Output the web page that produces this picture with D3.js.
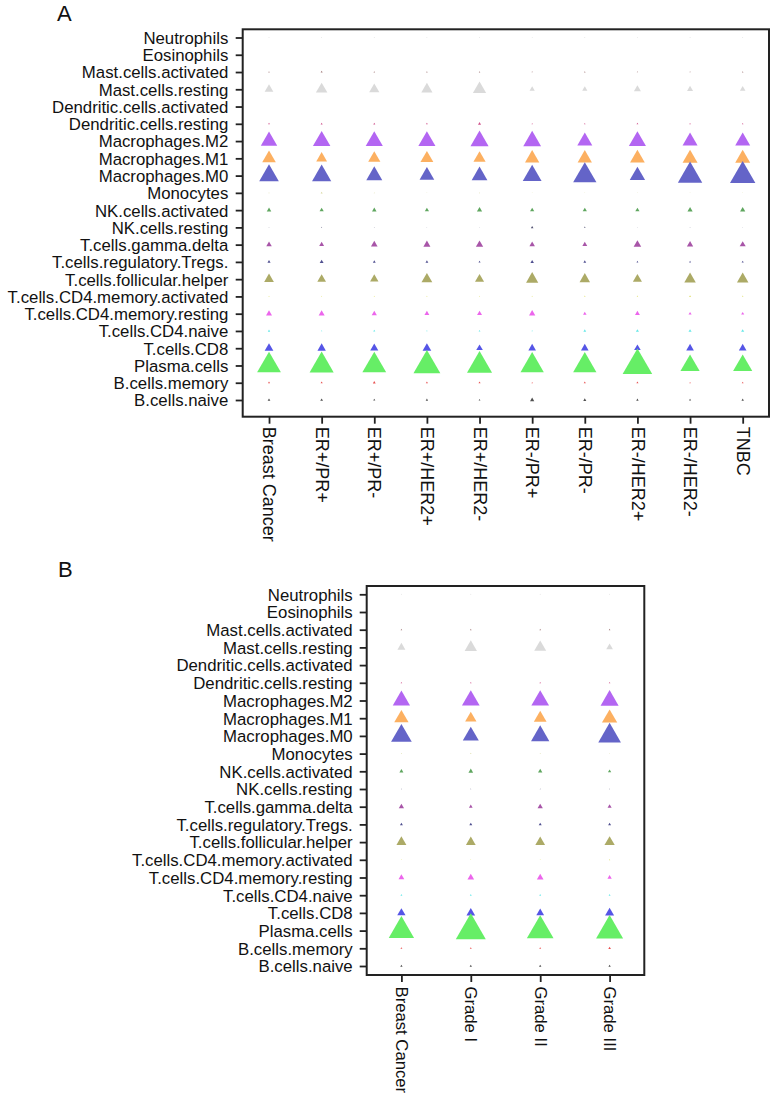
<!DOCTYPE html>
<html><head><meta charset="utf-8">
<script src="https://cdn.jsdelivr.net/npm/d3@7"></script>
<style>
body{margin:0;background:#fff}
svg{display:block}
text{font-family:"Liberation Sans",Arial,Helvetica,sans-serif;fill:#111}
</style>
</head><body>
<svg id="chart" width="777" height="1097"></svg>
<script>
// ---- categories ----
const cellTypes = ["Neutrophils","Eosinophils","Mast.cells.activated","Mast.cells.resting",
  "Dendritic.cells.activated","Dendritic.cells.resting","Macrophages.M2","Macrophages.M1",
  "Macrophages.M0","Monocytes","NK.cells.activated","NK.cells.resting","T.cells.gamma.delta",
  "T.cells.regulatory.Tregs.","T.cells.follicular.helper","T.cells.CD4.memory.activated",
  "T.cells.CD4.memory.resting","T.cells.CD4.naive","T.cells.CD8","Plasma.cells",
  "B.cells.memory","B.cells.naive"];
const cellColors = ["#c8c8c8","#c8c8c8","#a07878","#dadada","#c8c8c8","#d0508a","#b366f2","#fcb061",
  "#6464c8","#d8d8a0","#5fa65f","#505070","#a855a8","#505090","#acaa66","#e0e070",
  "#ec66ec","#66e8e8","#5555e6","#66ee66","#e85050","#505050"];

const subtypeCategories = ["Breast Cancer","ER+/PR+","ER+/PR-","ER+/HER2+","ER+/HER2-",
  "ER-/PR+","ER-/PR-","ER-/HER2+","ER-/HER2-","TNBC"];
const gradeCategories = ["Breast Cancer","Grade I","Grade II","Grade III"];

// ---- panel A values (relative fraction per cell type, order of cellTypes) ----
const aBreastCancer = [.01,0,.015,.087,0,.018,.164,.136,.196,.01,.045,.008,.055,.031,.097,.012,.06,.024,.087,.238,.021,.028];
const aERposPRpos   = [.01,0,.02,.115,0,.02,.175,.108,.192,.02,.042,.01,.049,.039,.087,.01,.06,.014,.084,.241,.021,.028];
const aERposPRneg   = [.01,0,.015,.102,0,.02,.171,.122,.16,.01,.045,.008,.066,.028,.084,.012,.052,.021,.081,.238,.028,.021];
const aERposHER2pos = [.008,0,.015,.112,0,.018,.171,.129,.147,.008,.042,.005,.07,.028,.108,.012,.049,.014,.087,.269,.021,.024];
const aERposHER2neg = [.01,0,.015,.133,0,.03,.181,.122,.157,.01,.052,.005,.073,.021,.091,.01,.049,.018,.066,.251,.021,.018];
const aERnegPRpos   = [.008,0,.012,.052,0,.012,.178,.143,.188,.008,.042,.026,.055,.035,.122,.012,.063,.014,.076,.233,.014,.042];
const aERnegPRneg   = [.01,0,.015,.052,0,.015,.15,.143,.233,.008,.042,.016,.049,.028,.105,.015,.035,.028,.076,.233,.021,.031];
const aERnegHER2pos = [.008,0,.012,.07,0,.018,.171,.147,.154,.008,.042,.005,.076,.018,.091,.015,.049,.031,.066,.296,.021,.024];
const aERnegHER2neg = [.01,0,.012,.06,0,.015,.15,.15,.244,.008,.052,.008,.063,.018,.115,.02,.031,.031,.076,.192,.014,.021];
const aTNBC         = [.01,0,.015,.055,0,.015,.15,.15,.254,.008,.052,.005,.06,.021,.115,.015,.031,.031,.076,.192,.018,.024];

// ---- panel B values ----
const bBreastCancer = [.01,0,.015,.075,0,.015,.163,.135,.195,.01,.038,.008,.05,.028,.094,.008,.054,.018,.078,.239,.018,.022];
const bGradeI       = [.01,0,.015,.116,0,.015,.167,.107,.151,.012,.044,.008,.035,.028,.092,.008,.063,.018,.082,.283,.018,.022];
const bGradeII      = [.01,0,.015,.113,0,.015,.167,.12,.173,.01,.041,.008,.05,.028,.092,.008,.063,.018,.073,.252,.018,.022];
const bGradeIII     = [.01,0,.015,.063,0,.015,.17,.144,.214,.008,.031,.008,.038,.028,.097,.012,.041,.018,.085,.255,.025,.022];

const subtypeSeries = [aBreastCancer,aERposPRpos,aERposPRneg,aERposHER2pos,aERposHER2neg,
  aERnegPRpos,aERnegPRneg,aERnegHER2pos,aERnegHER2neg,aTNBC];
const gradeSeries = [bBreastCancer,bGradeI,bGradeII,bGradeIII];

const svg = d3.select("#chart");

function drawPanel(cfg){
  const g = svg.append("g");
  const x = d3.scalePoint().domain(cfg.cats).range([cfg.left, cfg.right]).padding(0.5);
  const y = d3.scalePoint().domain(cellTypes).range([cfg.rowTop, cfg.rowBottom]);
  const w = d3.scaleLinear().domain([0,1]).range([0, cfg.sizeK]);

  // panel letter
  svg.append("text").attr("x", cfg.letterX).attr("y", cfg.letterY)
    .style("font-size","22px").text(cfg.letter);

  // marks
  const pts = [];
  cfg.series.forEach((vals, ci) => {
    vals.forEach((v, ri) => pts.push({cat: cfg.cats[ci], cell: cellTypes[ri], color: cellColors[ri], v}));
  });
  const sym = d3.symbol().type(d3.symbolTriangle).size(d => Math.sqrt(3)/4 * Math.pow(w(d.v),2));
  g.append("g").selectAll("path").data(pts.filter(d => d.v > 0)).join("path")
    .attr("transform", d => `translate(${x(d.cat)},${y(d.cell)})`)
    .attr("d", sym)
    .attr("fill", d => d.color);

  // y axis
  const ya = g.append("g").attr("transform", `translate(${cfg.left},0)`)
    .call(d3.axisLeft(y).tickSize(7).tickPadding(7));
  ya.select(".domain").remove();
  ya.selectAll(".tick line").attr("stroke","#222").attr("stroke-width",1.8);
  ya.selectAll(".tick text").attr("x", -cfg.yLabelGap).attr("dy","0.35em")
    .style("font-size","16.8px").attr("fill","#111");

  // x axis
  const xa = g.append("g").attr("transform", `translate(0,${cfg.bottom})`)
    .call(d3.axisBottom(x).tickSize(7));
  xa.select(".domain").remove();
  xa.selectAll(".tick line").attr("stroke","#222").attr("stroke-width",1.8);
  xa.selectAll(".tick text")
    .attr("x",0).attr("y",0).attr("dy","0.35em")
    .attr("transform", `translate(0,${cfg.xLabelGap}) rotate(90)`)
    .style("text-anchor","start")
    .style("font-size", cfg.xFont + "px").attr("fill","#111");

  // frame
  g.append("rect").attr("x", cfg.left).attr("y", cfg.top)
    .attr("width", cfg.right - cfg.left).attr("height", cfg.bottom - cfg.top)
    .attr("fill","none").attr("stroke","#222").attr("stroke-width",2);
}

drawPanel({letter:"A", letterX:57, letterY:21, cats:subtypeCategories, series:subtypeSeries,
  left:242.7, right:769, top:29.3, bottom:416.7, rowTop:37.5, rowBottom:400,
  sizeK:100, yLabelGap:14.4, xLabelGap:10, xFont:18});

drawPanel({letter:"B", letterX:58, letterY:577, cats:gradeCategories, series:gradeSeries,
  left:366.7, right:644.3, top:586, bottom:975, rowTop:594.3, rowBottom:966,
  sizeK:106, yLabelGap:14, xLabelGap:11.5, xFont:16.7});
</script>
</body></html>
